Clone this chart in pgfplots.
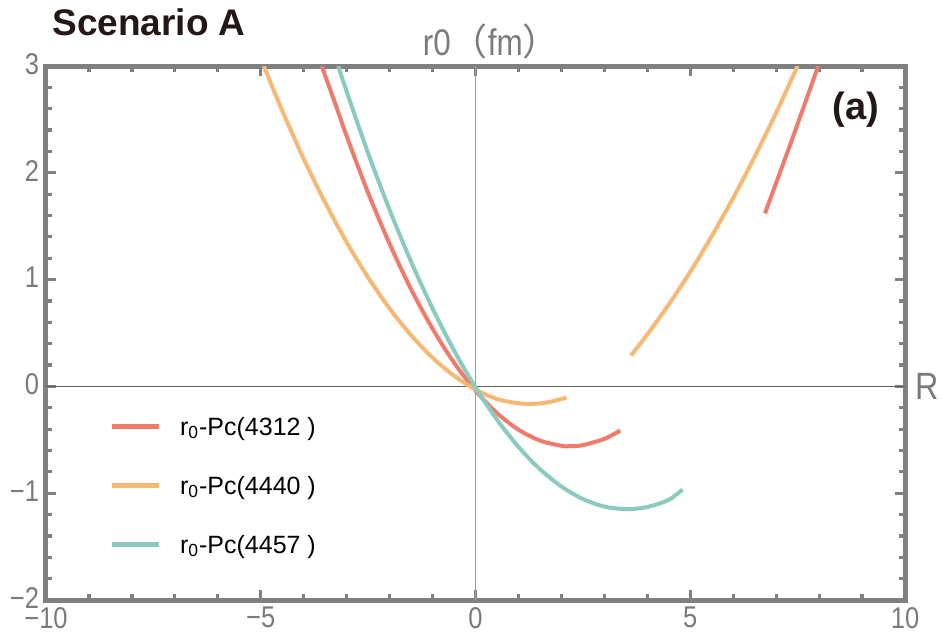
\documentclass[border=0pt]{standalone}
\usepackage{pgfplots}
\pgfplotsset{compat=1.18}
\usepackage{fontspec}
\setmainfont{Liberation Sans}
\newfontfamily\cjk{Noto Sans CJK SC}
\newfontfamily\tickfont{Liberation Sans}[FakeStretch=0.85]

\definecolor{framegray}{HTML}{808080}
\definecolor{labgray}{HTML}{7A7A7A}
\definecolor{cred}{HTML}{EE7B6C}
\definecolor{corange}{HTML}{F6B974}
\definecolor{cteal}{HTML}{8ACABF}
\definecolor{titlecol}{HTML}{231815}

\begin{document}
\begin{tikzpicture}
% page = 943x634 px, 1 px = 0.5pt; axis box 859x534 px
\useasboundingbox (-23pt,-17pt) rectangle (448.5pt,300pt);
\begin{axis}[
  name=ax,
  scale only axis,
  width=429.5pt, height=267pt,
  xmin=-10, xmax=10, ymin=-2, ymax=3,
  xtick={-10,-5,0,5,10}, xticklabels={−10,−5,0,5,10},
  ytick={-2,-1,0,1,2,3}, yticklabels={−2,−1,0,1,2,3},
  minor x tick num=4, minor y tick num=4,
  tick align=inside, tick pos=both,
  major tick length=5pt, minor tick length=3pt,
  tick style={framegray, line width=1.6pt},
  axis line style={framegray, line width=2.5pt},
  tick label style={font=\tickfont\fontsize{15}{15}\selectfont, text=labgray},
  xticklabel style={yshift=0pt},
  yticklabel style={yshift=1pt},
  extra x ticks={0}, extra x tick labels={},
  extra x tick style={grid=major, major grid style={color=black!38, line width=0.7pt}, major tick length=0pt},
  extra y ticks={0}, extra y tick labels={},
  extra y tick style={grid=major, major grid style={color=black!62, line width=0.7pt}, major tick length=0pt},
  legend cell align=left,
  legend image code/.code={\draw[#1, line width=2.5pt] (0pt,0pt) -- (23.5pt,0pt); \path (33pt,0pt);},
  legend style={at={(rel axis cs:0.074,0.3483)}, anchor=north west, draw=none, fill=none,
    inner sep=0pt, outer sep=0pt, row sep=17.5pt, font=\fontsize{12.5}{12.5}\selectfont,
    nodes={inner sep=0pt, text height=10.5pt, text depth=1.5pt}},
]
% r0-Pc(4312)
\addplot[cred, line width=2pt, smooth] coordinates {
  (-3.58,3.000) (-3.25,2.630) (-3.00,2.344) (-2.50,1.812) (-2.00,1.335)
  (-1.50,0.910) (-1.00,0.540) (-0.50,0.223) (0.00,-0.040) (0.50,-0.250)
  (1.00,-0.405) (1.50,-0.507) (2.00,-0.556) (2.20,-0.560) (2.50,-0.550)
  (3.00,-0.491) (3.37,-0.413)
};
\addlegendentry{r\textsubscript{0}-Pc(4312 )}
% r0-Pc(4440)
\addplot[corange, line width=2pt, smooth] coordinates {
  (-4.93,3.000) (-4.50,2.582) (-4.00,2.131) (-3.50,1.721) (-3.00,1.350)
  (-2.50,1.020) (-2.00,0.729) (-1.50,0.480) (-1.00,0.269) (-0.50,0.100)
  (0.00,-0.030) (0.50,-0.118) (1.00,-0.158) (1.34,-0.163) (1.70,-0.148)
  (2.12,-0.105)
};
\addlegendentry{r\textsubscript{0}-Pc(4440 )}
% r0-Pc(4457)
\addplot[cteal, line width=2pt, smooth] coordinates {
  (-3.196,3.000) (-3.00,2.761) (-2.50,2.184) (-2.00,1.653) (-1.50,1.168)
  (-1.00,0.730) (-0.50,0.337) (0.00,-0.010) (0.50,-0.311) (1.00,-0.566)
  (1.50,-0.775) (2.00,-0.937) (2.50,-1.054) (3.00,-1.125) (3.52,-1.150)
  (4.00,-1.129) (4.50,-1.062) (4.82,-0.965)
};
\addlegendentry{r\textsubscript{0}-Pc(4457 )}
% right branches
\addplot[corange, line width=2pt, smooth, forget plot] coordinates {
  (3.62,0.290) (4.00,0.486) (4.50,0.767) (5.00,1.073) (5.50,1.406)
  (6.00,1.765) (6.50,2.151) (7.00,2.562) (7.50,3.000)
};
\addplot[cred, line width=2pt, smooth, forget plot] coordinates {
  (6.74,1.62) (7.05,1.96) (7.36,2.30) (7.67,2.65) (7.98,3.00)
};
\node[font=\bfseries\fontsize{19}{19}\selectfont, text=titlecol] at (axis cs:8.86,2.59) {(a)};
\coordinate (toplab) at (rel axis cs:0.508,1);
\coordinate (rlab) at (axis cs:10,0);
\coordinate (ttl) at (rel axis cs:0,1);
\end{axis}
\node[anchor=base, inner sep=0pt, xshift=4.5pt, yshift=5.5pt, text=labgray, font=\tickfont\fontsize{18.5}{18.5}\selectfont] at (toplab) {r0{\cjk （}fm{\cjk ）}};
\node[anchor=west, inner sep=0pt, xshift=5pt, text=labgray, font=\tickfont\fontsize{19}{19}\selectfont] at (rlab) {R};
\node[anchor=base west, inner sep=0pt, xshift=3pt, yshift=15.5pt, text=titlecol, font=\bfseries\fontsize{18.5}{18.5}\selectfont] at (ttl) {Scenario A};
\end{tikzpicture}
\end{document}
